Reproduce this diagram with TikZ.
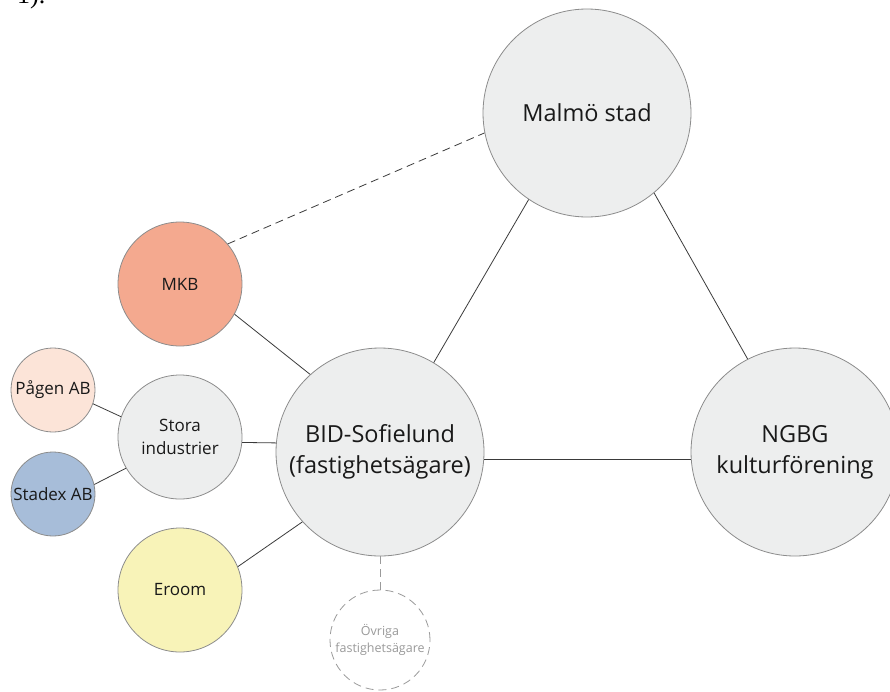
\documentclass[tikz,border=0pt]{standalone}
\usepackage{fontspec}
\setmainfont{Open Sans}
\newfontfamily\serifnum{Liberation Serif}
\definecolor{circgray}{HTML}{EDEEEE}
\definecolor{circline}{HTML}{8C8C8C}
\definecolor{linkcol}{HTML}{3A3A3A}
\definecolor{mkbcol}{HTML}{F4A98F}
\definecolor{pagencol}{HTML}{FCE4D8}
\definecolor{stadexcol}{HTML}{A7BDD9}
\definecolor{eroomcol}{HTML}{F8F3B8}
\definecolor{ovrigcol}{HTML}{9A9A9A}
\tikzset{
  bigc/.style={circle, draw=circline, line width=0.8pt, fill=circgray, minimum size=208pt, inner sep=0pt, align=center, font=\fontsize{23.5}{31}\selectfont, text=black!90},
  midc/.style={circle, draw=circline, line width=0.8pt, minimum size=124pt, inner sep=0pt, align=center, font=\fontsize{17}{23}\selectfont, text=black!90},
  smallc/.style={circle, draw=circline, line width=0.8pt, minimum size=84pt, inner sep=0pt, align=center, font=\fontsize{17}{20}\selectfont, text=black!90},
  dashc/.style={circle, draw=ovrigcol, line width=0.8pt, dash pattern=on 8pt off 5pt, minimum size=100pt, inner sep=0pt, align=center, font=\fontsize{12.5}{16.5}\selectfont, text=ovrigcol},
  link/.style={draw=linkcol, line width=0.8pt},
  dlink/.style={draw=linkcol, line width=0.8pt, dash pattern=on 8pt off 5pt},
  dlinkg/.style={draw=ovrigcol, line width=0.8pt, dash pattern=on 8pt off 5pt}
}
\begin{document}
\begin{tikzpicture}[x=1pt,y=-1pt]
\useasboundingbox (0,0) rectangle (890,691);
\node[anchor=base west, font=\serifnum\fontsize{26}{30}\selectfont, inner sep=0pt] (label) at (17,3) {1).};
% nodes
\node[bigc] (malmo) at (587,113) {Malmö stad};
\node[bigc] (ngbg) at (795,452) {NGBG\\kulturförening};
\node[bigc] (bid) at (380,452) {BID-Sofielund\\(fastighetsägare)};
\node[midc, fill=mkbcol] (mkb) at (180,284) {MKB};
\node[midc, fill=circgray] (stora) at (180,437) {Stora\\industrier};
\node[midc, fill=eroomcol] (eroom) at (180,590) {Eroom};
\node[smallc, fill=pagencol] (pagen) at (53,390) {Pågen AB};
\node[smallc, fill=stadexcol] (stadex) at (53,494) {Stadex AB};
\node[dashc, fill=white] (ovriga) at (380,640) {Övriga\\fastighetsägare};
% connectors
\draw[dlink] (mkb.40) -- (malmo.191);
\draw[link] (mkb.-29) -- (bid.132);
\draw[link] (stora.-5.5) -- (bid.175);
\draw[link] (eroom.22) -- (bid.222);
\draw[link] (pagen.-19) -- (stora.161);
\draw[link] (stadex.13) -- (stora.210);
\draw[link] (bid.59.5) -- (malmo.236.5);
\draw[link] (malmo.-50) -- (ngbg.117);
\draw[link] (bid.-4) -- (ngbg.184);
\draw[dlinkg] (bid.south) -- (ovriga.north);
\end{tikzpicture}
\end{document}
